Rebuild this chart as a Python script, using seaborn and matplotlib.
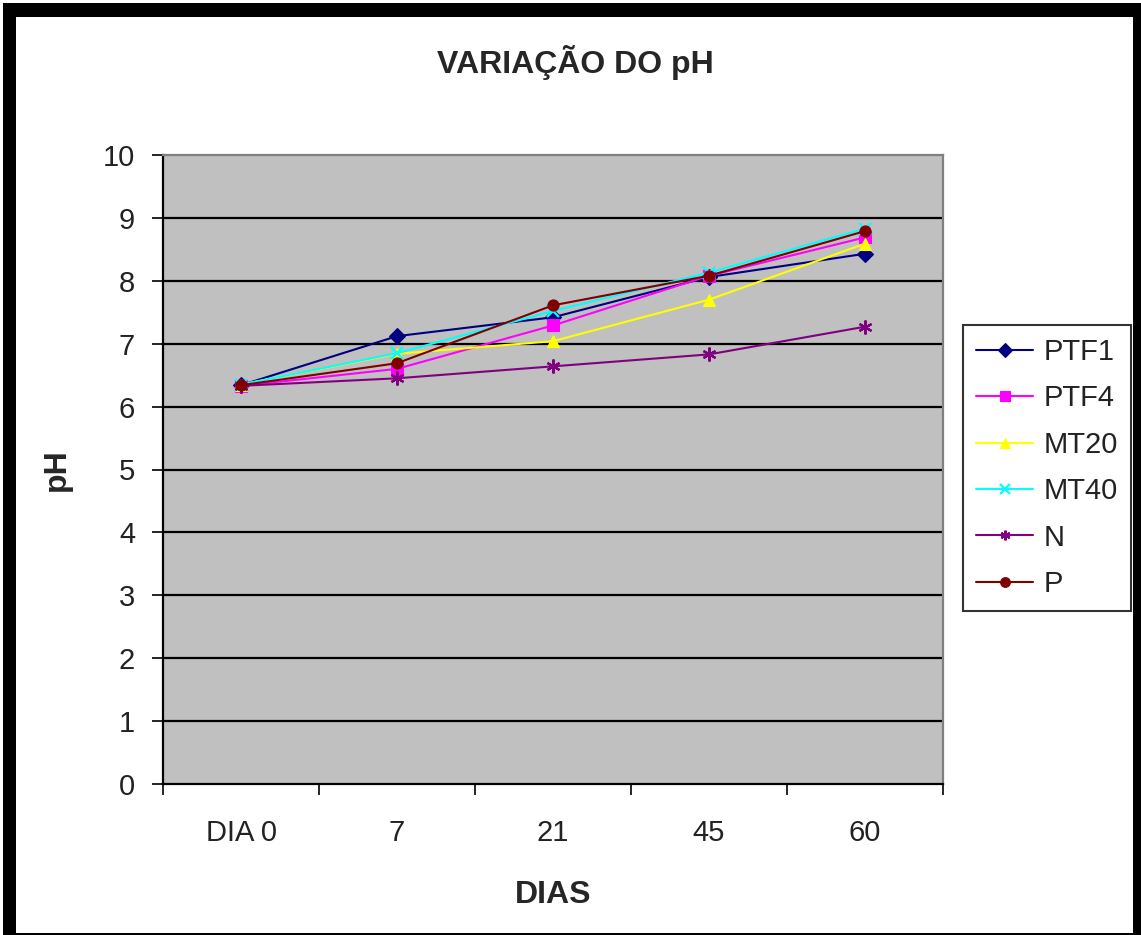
import matplotlib
matplotlib.use("Agg")
import matplotlib.pyplot as plt
from matplotlib.patches import Rectangle
from matplotlib.ticker import FixedLocator
import seaborn as sns
import pandas as pd

# ---- data ----
days = ["DIA 0", "7", "21", "45", "60"]
series_names = ["PTF1", "PTF4", "MT20", "MT40", "N", "P"]
ptf1 = [6.34, 7.12, 7.42, 8.06, 8.43]
ptf4 = [6.33, 6.60, 7.29, 8.08, 8.69]
mt20 = [6.35, 6.84, 7.04, 7.70, 8.59]
mt40 = [6.35, 6.85, 7.52, 8.13, 8.83]
n_vals = [6.33, 6.45, 6.64, 6.83, 7.27]
p_vals = [6.34, 6.69, 7.61, 8.08, 8.79]
y_ticks = [0, 1, 2, 3, 4, 5, 6, 7, 8, 9, 10]

values = [ptf1, ptf4, mt20, mt40, n_vals, p_vals]
df = pd.DataFrame({
    "DIAS": days * len(series_names),
    "pH": [v for vals in values for v in vals],
    "serie": [s for s in series_names for _ in days],
})

colors = {"PTF1": "#000080", "PTF4": "#FF00FF", "MT20": "#FFFF00",
          "MT40": "#00FFFF", "N": "#800080", "P": "#800000"}
markers = {"PTF1": "D", "PTF4": "s", "MT20": "^", "MT40": "x",
           "N": (6, 2, 0), "P": "o"}
msizes = {"PTF1": 8, "PTF4": 8, "MT20": 9, "MT40": 8, "N": 10, "P": 8}

sns.set_style("white")
plt.rcParams["font.family"] = ["Liberation Sans", "DejaVu Sans"]

fig = plt.figure(figsize=(11.41, 9.35), dpi=100)
fig.patch.set_facecolor("white")
# screenshot frame
fig.patches.append(Rectangle((3 / 1141, 0), 1 - 3 / 1141, 1 - 3 / 935,
                             transform=fig.transFigure, facecolor="black",
                             edgecolor="none", zorder=-10))
fig.patches.append(Rectangle((16 / 1141, 2 / 935), (1133 - 16) / 1141,
                             (933 - 17) / 935, transform=fig.transFigure,
                             facecolor="white", edgecolor="none", zorder=-9))

ax = fig.add_axes([163 / 1141, 1 - 784 / 935, 780 / 1141, 629 / 935])
ax.set_facecolor("#C0C0C0")

sns.lineplot(data=df, x="DIAS", y="pH", hue="serie",
             palette=colors, marker="o", sort=False,
             hue_order=series_names,
             linewidth=1.5, legend=False, ax=ax)

lines = ax.lines[:len(series_names)]
for ln, name in zip(lines, series_names):
    ln.set_marker(markers[name])
    ln.set_markersize(msizes[name])
    ln.set_markerfacecolor(colors[name])
    ln.set_markeredgecolor(colors[name])
    ln.set_markeredgewidth(1.6 if name in ("MT40", "N") else 0.8)

ax.set_ylim(y_ticks[0], y_ticks[-1])
ax.set_xlim(-0.5, len(days) - 0.5)
ax.set_yticks(y_ticks)
ax.yaxis.grid(True, color="black", linewidth=1.6)
ax.set_axisbelow(True)
gl = ax.yaxis.get_gridlines()
gl[0].set_visible(False)
gl[-1].set_visible(False)

ax.xaxis.set_minor_locator(FixedLocator([i - 0.5 for i in range(len(days) + 1)]))
ax.tick_params(axis="x", which="major", length=0, pad=25, labelsize=21,
               labelcolor="#222222")
ax.tick_params(axis="x", which="minor", length=8, width=1.2, color="black",
               direction="out", bottom=True)
ax.tick_params(axis="y", length=8, width=1.2, color="black", direction="out",
               pad=12, labelsize=21, labelcolor="#222222", left=True)

for side in ("left", "bottom"):
    ax.spines[side].set_color("black")
    ax.spines[side].set_linewidth(1.6)
for side in ("top", "right"):
    ax.spines[side].set_color("#808080")
    ax.spines[side].set_linewidth(1.6)

ax.set_xlabel("DIAS", fontsize=23, fontweight="bold")
ax.set_ylabel("pH", fontsize=23, fontweight="bold")
ax.xaxis.set_label_coords(0.5, -0.153)
ax.yaxis.set_label_coords(-0.117, 0.5)

fig.text(575 / 1141, 1 - 62 / 935, "VARIAÇÃO DO pH", fontsize=23,
         fontweight="bold", ha="center", va="center")

leg = ax.legend(lines, series_names, loc="upper left",
                bbox_to_anchor=(963 / 1141, 1 - 325 / 935),
                bbox_transform=fig.transFigure, frameon=True, fancybox=False,
                fontsize=21, handlelength=1.95, handletextpad=0.35,
                labelspacing=0.63, borderpad=0.45, borderaxespad=0)
leg.get_frame().set_edgecolor("black")
leg.get_frame().set_linewidth(1.5)
leg.get_frame().set_facecolor("white")
for t in leg.get_texts():
    t.set_color("#222222")
for h in leg.legend_handles:
    h.set_markersize(7)

fig.savefig("out.png", dpi=100)
